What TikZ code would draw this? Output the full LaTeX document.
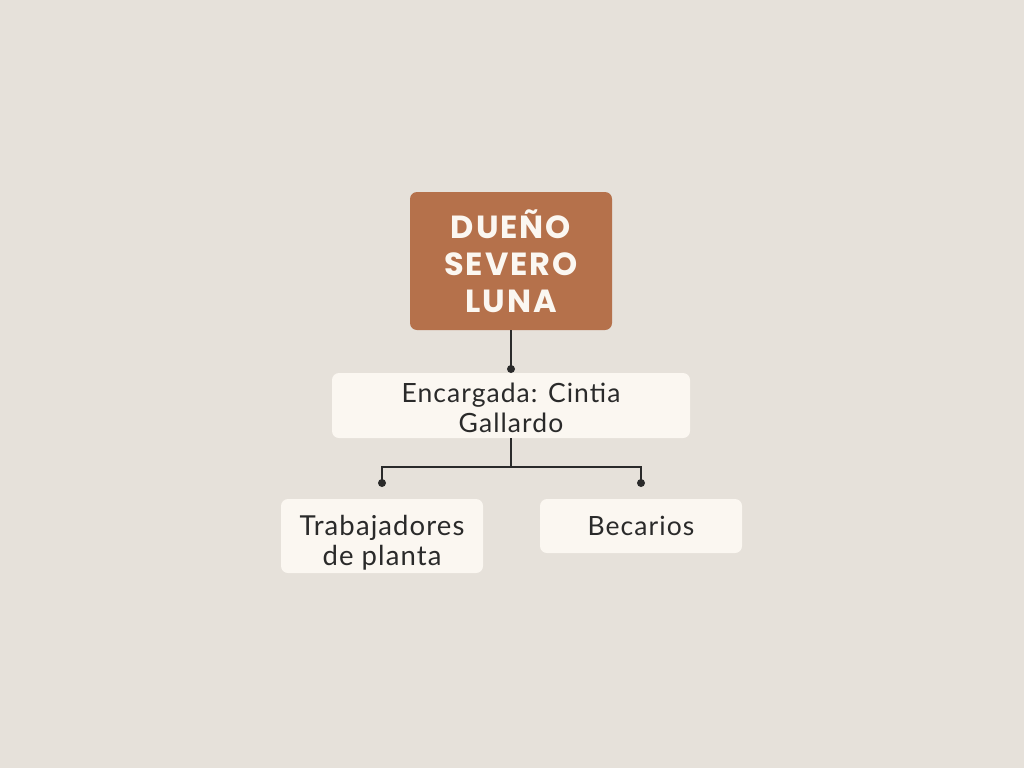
\documentclass[tikz,border=0pt]{standalone}
\usepackage{fontspec}
\setmainfont{Lato}[LetterSpace=4]
\newfontfamily\titlefont{Poppins}[LetterSpace=6]
\definecolor{bg}{HTML}{E6E1DA}
\definecolor{rust}{HTML}{B5714B}
\definecolor{cream}{HTML}{FBF7F1}
\definecolor{ink}{HTML}{2A2A2A}
\tikzset{
  boxfill/.style={fill=cream, rounded corners=7pt, inner sep=0pt},
  boxtext/.style={inner sep=0pt, align=center, text=ink, font=\fontsize{26.5}{30}\selectfont},
  box/.style={boxfill, boxtext},
  titlebox/.style={fill=rust, rounded corners=7pt, inner sep=0pt, align=center, text=cream, font=\titlefont\bfseries\fontsize{32}{37}\selectfont},
  conn/.style={draw=ink, line width=2pt},
  dot/.style={fill=ink, circle, inner sep=0pt, minimum size=8pt}
}
\begin{document}
\begin{tikzpicture}[x=1pt,y=-1pt]
\fill[bg] (0,0) rectangle (1024,768);
\useasboundingbox (0,0) rectangle (1024,768);
\node[titlebox, minimum width=202pt, minimum height=138pt] (top) at (511,261) {DUEÑO\\SEVERO\\LUNA};
\node[boxfill, minimum width=358pt, minimum height=65pt] (mid) at (511,405.5) {};
\node[boxtext] (midtext) at (511,407.5) {Encargada: Cintia\\Gallardo};
\node[boxfill, minimum width=202pt, minimum height=74pt] (left) at (382,536) {};
\node[boxtext, font=\fontsize{27.5}{30}\selectfont] (lefttext) at (382,542.5) {Trabajadores\\de planta};
\node[box, minimum width=202pt, minimum height=54pt] (right) at (641,526) {Becarios};
\coordinate (dm) at (511,369);
\coordinate (br) at (511,467);
\coordinate (dl) at (382,483);
\coordinate (dr) at (641,483);
\draw[conn] (top.south) -- (dm);
\node[dot] at (dm) {};
\draw[conn] (mid.south) -- (br);
\draw[conn] (dl) -- (dl |- br) -- (dr |- br) -- (dr);
\node[dot] at (dl) {};
\node[dot] at (dr) {};
\end{tikzpicture}
\end{document}
